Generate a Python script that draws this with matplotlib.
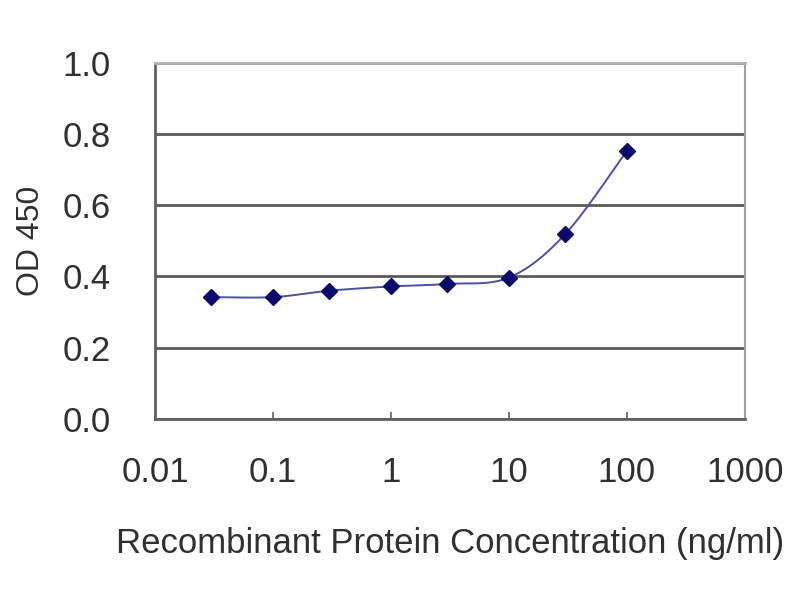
import numpy as np
import matplotlib
matplotlib.use("Agg")
import matplotlib.pyplot as plt

# Data
conc = [0.03, 0.1, 0.3, 1, 3, 10, 30, 100]
od450 = [0.342, 0.342, 0.360, 0.372, 0.379, 0.397, 0.519, 0.753]
xticks = [0.01, 0.1, 1, 10, 100, 1000]
xticklabels = ["0.01", "0.1", "1", "10", "100", "1000"]
yticks = [0.0, 0.2, 0.4, 0.6, 0.8, 1.0]
yticklabels = ["0.0", "0.2", "0.4", "0.6", "0.8", "1.0"]

plt.rcParams['font.family'] = ['Liberation Sans', 'DejaVu Sans']

fig = plt.figure(figsize=(8, 6), dpi=100)
ax = fig.add_axes([0.194, 0.302, 0.737, 0.593])

# smooth line (Catmull-Rom through the data in log-x space)
lx = np.log10(conc)
ly = np.array(od450)
P = np.column_stack([lx, ly])
Pp = np.vstack([P[0], P, P[-1]])
segs = []
t = np.linspace(0, 1, 30)
for i in range(1, len(Pp) - 2):
    p0, p1, p2, p3 = Pp[i-1], Pp[i], Pp[i+1], Pp[i+2]
    m1 = (p2 - p0) / 2
    m2 = (p3 - p1) / 2
    h00 = 2*t**3 - 3*t**2 + 1
    h10 = t**3 - 2*t**2 + t
    h01 = -2*t**3 + 3*t**2
    h11 = t**3 - t**2
    seg = (h00[:, None]*p1 + h10[:, None]*m1 + h01[:, None]*p2 + h11[:, None]*m2)
    segs.append(seg)
curve = np.vstack(segs)
ax.plot(10**curve[:, 0], curve[:, 1], color="#4a50a8", lw=1.4, zorder=3)
ax.plot(conc, od450, linestyle="none", marker="D", markersize=8.5,
        color="#0a0a6e", zorder=4)

ax.set_xscale("log")
ax.set_xlim(0.01, 1000)
ax.set_ylim(0, 1.0)
ax.set_xticks(xticks)
ax.set_xticklabels(xticklabels, fontsize=25, color="#303030")
ax.set_yticks(yticks)
ax.set_yticklabels(yticklabels, fontsize=25, color="#303030")
ax.minorticks_off()
ax.tick_params(axis="x", direction="in", length=5, width=1.2, color="#606060", pad=27)
ax.tick_params(axis="y", length=0, pad=32)

ax.grid(axis="y", color="#5a5a5a", lw=2)
ax.set_axisbelow(True)
ax.spines["left"].set_color("#606060")
ax.spines["left"].set_linewidth(2)
ax.spines["bottom"].set_color("#606060")
ax.spines["bottom"].set_linewidth(2)
ax.spines["top"].set_color("#b0b0b0")
ax.spines["top"].set_linewidth(2)
ax.spines["right"].set_color("#a0a0a0")
ax.spines["right"].set_linewidth(1.5)

ax.set_xlabel("Recombinant Protein Concentration (ng/ml)", fontsize=25,
              color="#303030", labelpad=27)
ax.set_ylabel("OD 450", fontsize=23, color="#303030", labelpad=12)

fig.savefig("out.png", dpi=100)
